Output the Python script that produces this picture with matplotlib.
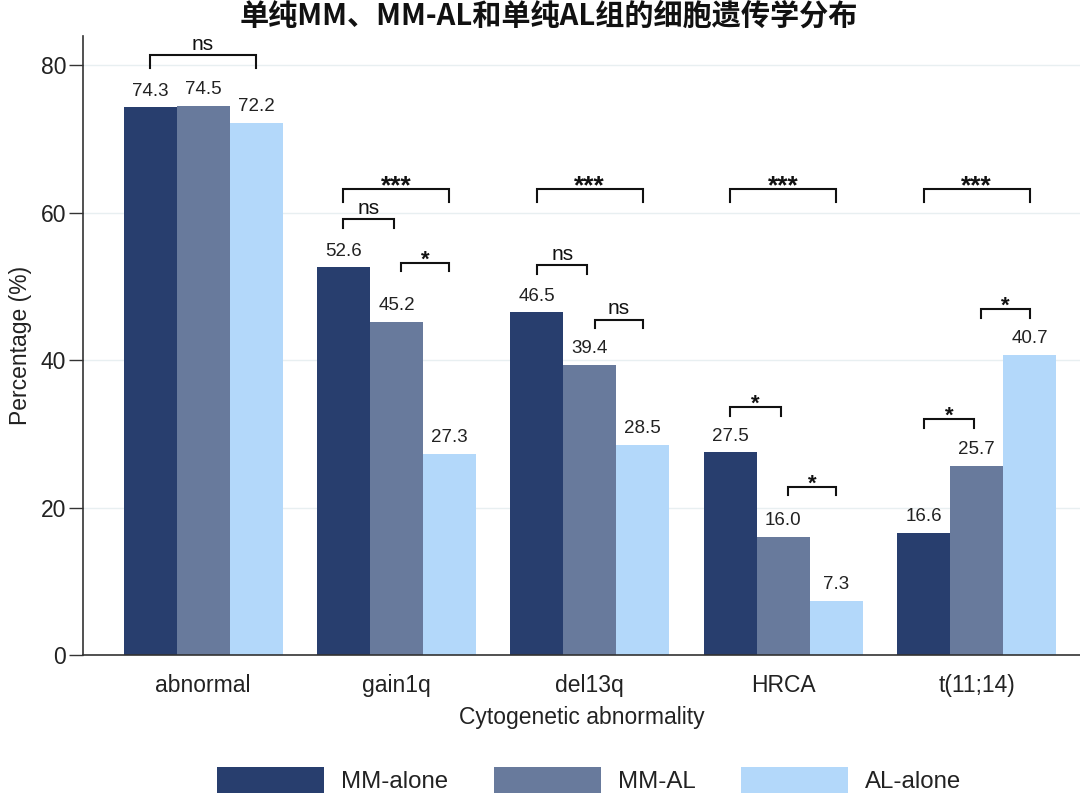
import matplotlib
matplotlib.use("Agg")
import matplotlib.pyplot as plt
import numpy as np
from matplotlib.patches import Patch

# ---- data ----
categories = ["abnormal", "gain1q", "del13q", "HRCA", "t(11;14)"]
series_names = ["MM-alone", "MM-AL", "AL-alone"]
mm_alone = [74.3, 52.6, 46.5, 27.5, 16.6]
mm_al = [74.5, 45.2, 39.4, 16.0, 25.7]
al_alone = [72.2, 27.3, 28.5, 7.3, 40.7]
yticks = [0, 20, 40, 60, 80]

# significance comparisons: (category index, bar a, bar b, label, bracket level in %)
sig_group = [0, 1, 1, 1, 2, 2, 2, 3, 3, 3, 4, 4, 4]
sig_a = [0, 0, 0, 1, 0, 0, 1, 0, 0, 1, 0, 0, 1]
sig_b = [2, 2, 1, 2, 2, 1, 2, 2, 1, 2, 2, 1, 2]
sig_label = ["ns", "***", "ns", "*", "***", "ns", "ns", "***", "*", "*", "***", "*", "*"]
sig_level = [81.4, 63.3, 59.1, 53.2, 63.3, 52.9, 45.5, 63.3, 33.6, 22.8, 63.3, 32.0, 46.9]

title = "单纯MM、MM-AL和单纯AL组的细胞遗传学分布"
xlabel = "Cytogenetic abnormality"
ylabel = "Percentage (%)"

colors = ["#283e6e", "#687a9c", "#b3d8fa"]
text_color = "#222222"

plt.rcParams["font.family"] = ["Liberation Sans", "DejaVu Sans"]

fig = plt.figure(figsize=(10.8, 7.97), dpi=100)
ax = fig.add_axes([83 / 1080, 142 / 797, 1 - 83 / 1080, 619 / 797])

x = np.arange(len(categories))
bw = 0.274
series = [mm_alone, mm_al, al_alone]
offsets = [-bw, 0, bw]
for vals, off, col, name in zip(series, offsets, colors, series_names):
    ax.bar(x + off, vals, width=bw, color=col, label=name, zorder=2, linewidth=0)
    for xi, v in zip(x + off, vals):
        ax.annotate(f"{v:.1f}", xy=(xi, v), xytext=(0, 8.5), textcoords="offset points",
                    ha="center", va="baseline", fontsize=13.5, color=text_color)

# brackets
for g, a, b, lab, lvl in zip(sig_group, sig_a, sig_b, sig_label, sig_level):
    xa = g + offsets[a]
    xb = g + offsets[b]
    if b - a == 1:
        drop = 1.15
        if a == 1:
            xa += 0.025
        else:
            xb -= 0.012
    else:
        drop = 1.76
    ax.plot([xa, xa, xb, xb], [lvl - drop, lvl, lvl, lvl - drop], color="#111111",
            lw=1.5, solid_joinstyle="miter", zorder=3, clip_on=False)
    xm = (xa + xb) / 2
    if lab == "ns":
        ax.annotate(lab, xy=(xm, lvl), xytext=(0, 4), textcoords="offset points",
                    ha="center", va="baseline", fontsize=15, color="#111111")
    elif lab == "***":
        ax.annotate(lab, xy=(xm, lvl), xytext=(0, -3.4), textcoords="offset points",
                    ha="center", va="baseline", fontsize=19, fontweight="bold", color="#111111")
    else:
        ax.annotate(lab, xy=(xm, lvl), xytext=(0, -2.0), textcoords="offset points",
                    ha="center", va="baseline", fontsize=16, fontweight="bold", color="#111111")

ax.set_xlim(-0.621, 4.535)
ax.set_ylim(0, 84.0)
ax.set_yticks(yticks)
ax.set_xticks(x)
ax.set_xticklabels(categories)
ax.tick_params(axis="x", length=0, pad=14, labelsize=16.5, labelcolor=text_color)
ax.tick_params(axis="y", length=10, width=1.0, color="#333333", pad=2,
               labelsize=16.5, labelcolor=text_color)
ax.yaxis.grid(True, color="#e8eff1", lw=1.0, zorder=0)
ax.set_axisbelow(True)
for s in ["top", "right"]:
    ax.spines[s].set_visible(False)
for s in ["left", "bottom"]:
    ax.spines[s].set_color("#333333")
    ax.spines[s].set_linewidth(1.2)

ax.set_xlabel(xlabel, fontsize=16.5, color=text_color, labelpad=6)
ax.set_ylabel(ylabel, fontsize=16.5, color=text_color, labelpad=6)

fig.text(0.508, 0.981, title, ha="center", va="center", fontsize=21, fontweight="bold",
         family=["Noto Sans CJK SC", "DejaVu Sans"], color="#111111")

handles = [Patch(facecolor=c, edgecolor="none", label=n) for c, n in zip(colors, series_names)]
fig.legend(handles=handles, loc="center", bbox_to_anchor=(589 / 1080, 1 - 780 / 797),
           ncol=3, frameon=False, fontsize=17.3, handlelength=4.46, handleheight=1.25,
           handletextpad=0.7, columnspacing=1.9, borderpad=0, labelcolor=text_color)

fig.savefig("out.png", dpi=100)
